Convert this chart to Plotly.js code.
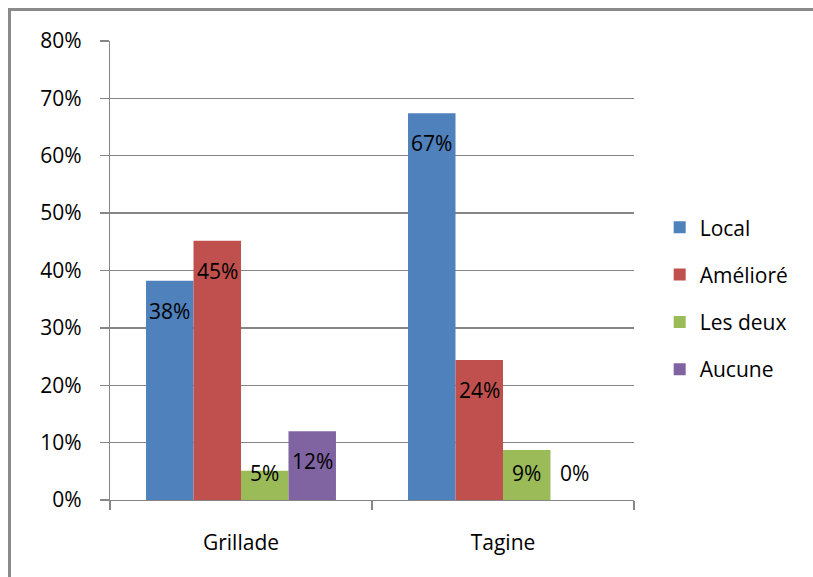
<!DOCTYPE html>
<html>
<head>
<meta charset="utf-8">
<script src="https://cdn.plot.ly/plotly-3.0.1.min.js"></script>
<style>
  html, body { margin: 0; padding: 0; background: #fff; }
  #wrap { position: relative; width: 813px; height: 577px; overflow: hidden; }
  #chart { width: 813px; height: 577px; }
  #frame { position: absolute; left: 8px; top: 8px; width: 830px; height: 600px;
           border-left: 3px solid #8a8a8a; border-top: 3px solid #8a8a8a; pointer-events: none; }
</style>
</head>
<body>
<div id="wrap">
  <div id="chart"></div>
  <div id="frame"></div>
</div>
<script>
const categories = ['Grillade', 'Tagine'];
const seriesNames = ['Local', 'Amélioré', 'Les deux', 'Aucune'];
const local = [0.382, 0.674];
const ameliore = [0.452, 0.244];
const lesDeux = [0.051, 0.087];
const aucune = [0.12, 0.0];
const colors = ['#4F81BD', '#C0504D', '#9BBB59', '#8064A2'];

const seriesValues = [local, ameliore, lesDeux, aucune];
const FONT = 'Open Sans, sans-serif';
const bargap = 0.275;

const traces = seriesValues.map((vals, i) => ({
  type: 'bar',
  name: seriesNames[i],
  x: categories,
  y: vals,
  marker: { color: colors[i], line: { width: 0 } },
  legendgroup: 'g' + i,
  hoverinfo: 'skip'
}));

// data labels (one per bar, including the 0% one)
const annotations = [];
const groupW = 1 - bargap;
const barW = groupW / seriesValues.length;
seriesValues.forEach((vals, i) => {
  vals.forEach((v, c) => {
    const xc = c - groupW / 2 + (i + 0.5) * barW;
    const ylab = Math.max(v - 0.052, 0.047);
    annotations.push({
      x: xc, y: ylab, xref: 'x', yref: 'y',
      text: Math.round(v * 100) + '%',
      showarrow: false,
      xanchor: 'center', yanchor: 'middle',
      font: { family: FONT, size: 21, color: '#000' }
    });
  });
});

const layout = {
  width: 813, height: 577,
  margin: { l: 110, r: 179, t: 41, b: 77 },
  paper_bgcolor: '#fff', plot_bgcolor: '#fff',
  barmode: 'group',
  bargap: bargap,
  bargroupgap: 0,
  font: { family: FONT, size: 21, color: '#000' },
  xaxis: {
    type: 'category',
    range: [-0.5, 1.5],
    showline: true, linecolor: '#868686', linewidth: 1.3,
    ticks: 'outside', tickson: 'boundaries', ticklen: 9, tickcolor: '#868686', tickwidth: 1.3,
    ticklabelstandoff: 23,
    showgrid: false, zeroline: false,
    tickfont: { family: FONT, size: 21, color: '#000' }
  },
  yaxis: {
    range: [0, 0.8], dtick: 0.1, tick0: 0,
    tickformat: '.0%',
    showline: true, linecolor: '#868686', linewidth: 1.3,
    ticks: 'outside', ticklen: 9, tickcolor: '#868686', tickwidth: 1.3,
    ticklabelstandoff: 14,
    showgrid: true, gridcolor: '#868686', gridwidth: 1.3,
    zeroline: false,
    tickfont: { family: FONT, size: 21, color: '#000' }
  },
  legend: {
    x: 1.049, xanchor: 'left',
    y: 0.638, yanchor: 'top',
    traceorder: 'grouped',
    tracegroupgap: 17,
    font: { family: FONT, size: 21, color: '#000' },
    bgcolor: 'rgba(0,0,0,0)', borderwidth: 0,
    itemclick: false, itemdoubleclick: false
  },
  showlegend: true,
  annotations: annotations
};

Plotly.newPlot('chart', traces, layout, { displayModeBar: false, staticPlot: true });
</script>
</body>
</html>
